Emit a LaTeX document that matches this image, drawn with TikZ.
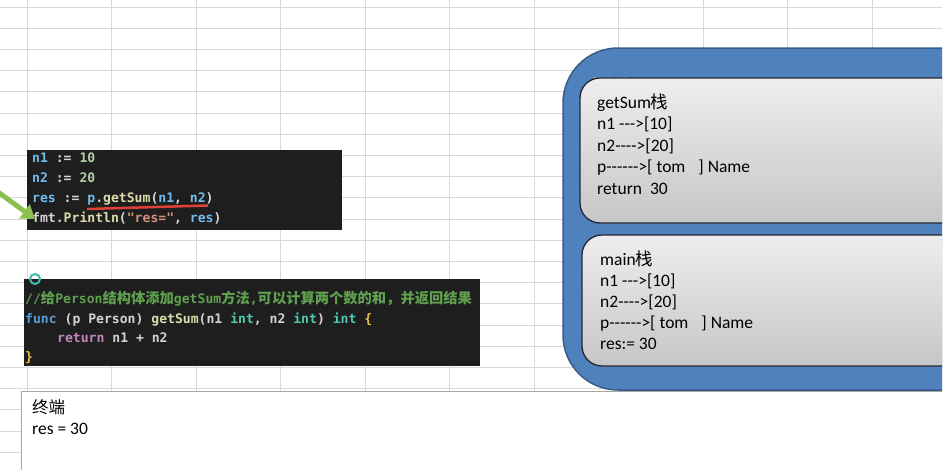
\documentclass[tikz,border=0pt]{standalone}
\usepackage{fontspec}
\usepackage{xcolor}
\usetikzlibrary{arrows.meta}
\newfontfamily\boxfont{Carlito}
\newfontfamily\codefont{DejaVu Sans Mono}
\newfontfamily\cjk{Noto Sans CJK SC}
\newfontfamily\cjkcode{Noto Sans CJK SC}[Scale=1.09]

\definecolor{gridgray}{HTML}{D9D9D9}
\definecolor{codebg}{HTML}{1E1E1E}
\definecolor{govar}{HTML}{72BCEF}
\definecolor{gonum}{HTML}{B5CEA8}
\definecolor{gofunc}{HTML}{DCDCAA}
\definecolor{gostr}{HTML}{CE9178}
\definecolor{gocmt}{HTML}{5FA04E}
\definecolor{gokw}{HTML}{569CD6}
\definecolor{gotype}{HTML}{4EC9B0}
\definecolor{gopurple}{HTML}{C586C0}
\definecolor{goplain}{HTML}{D4D4D4}
\definecolor{gobrace}{HTML}{E8C547}
\definecolor{underred}{HTML}{E0403A}
\definecolor{arrowgreen}{HTML}{8CBF4F}
\definecolor{areablue}{HTML}{4F81BD}
\definecolor{areadark}{HTML}{385D8A}
\definecolor{framedark}{HTML}{262630}
\definecolor{boxtop}{HTML}{EEEEEE}
\definecolor{boxbottom}{HTML}{C6C6C6}
\definecolor{termline}{HTML}{A6A6A6}
\definecolor{ringteal}{HTML}{3DBDB0}

\tikzset{
  gridline/.style={draw=gridgray, line width=0.8},
  codebox/.style={fill=codebg},
  codeline/.style={anchor=base west, inner sep=0, text=goplain, font=\codefont\bfseries\fontsize{13.1}{19}\selectfont},
  stackline/.style={anchor=base west, inner sep=0, font=\boxfont\fontsize{17.5}{21}\selectfont},
  stackarea/.style={fill=areablue, draw=areadark, line width=1.5, rounded corners=55},
  framebox/.style={draw=framedark, line width=1.3, rounded corners=20, top color=boxtop, bottom color=boxbottom},
  pointer/.style={draw=arrowgreen, line width=5, -{Triangle[length=13pt,width=17pt]}},
}

\begin{document}
\begin{tikzpicture}[x=1pt,y=-1pt]
\useasboundingbox (0,0) rectangle (951,469);
\begin{scope}
\clip (0,0) rectangle (942,469);

% sheet grid
\foreach \x in {27,111.5,...,942}
{
	\draw[gridline] (\x,0) -- (\x,469);
}
\foreach \y in {7,28.2,...,469}
{
	\draw[gridline] (0,\y) -- (942,\y);
}

% call site
\fill[codebox] (27,150) rectangle (342,230);
\node[codeline] (c1) at (32,162) {\textcolor{govar}{n1} := \textcolor{gonum}{10}};
\node[codeline] (c2) at (32,182) {\textcolor{govar}{n2} := \textcolor{gonum}{20}};
\node[codeline] (c3) at (32,202) {\textcolor{govar}{res} := \textcolor{govar}{p}.\textcolor{gofunc}{getSum}(\textcolor{govar}{n1}, \textcolor{govar}{n2})};
\node[codeline] (c4) at (32,222) {fmt.\textcolor{gofunc}{Println}(\textcolor{gostr}{"res="}, \textcolor{govar}{res})};
\coordinate (ulstart) at (87,209);
\coordinate (ulend) at (208,205.5);
\draw[underred, line width=2.5] (ulstart) -- (ulend);
\coordinate (arrowtail) at (-2,192);
\coordinate (arrowhead) at (35,219);
\draw[pointer] (arrowtail) -- (arrowhead);

% method
\fill[codebox] (24,279) rectangle (480,366);
\draw[ringteal, line width=2] (35,279) circle (5);
\node[codeline, text=gocmt] (m1) at (25,303) {//{\cjkcode 给}Person{\cjkcode 结构体添加}getSum{\cjkcode 方法},{\cjkcode 可以计算两个数的和，并返回结果}};
\node[codeline] (m2) at (25,323) {\textcolor{gokw}{func} (p Person) \textcolor{gofunc}{getSum}(n1 \textcolor{gotype}{int}, n2 \textcolor{gotype}{int}) \textcolor{gotype}{int} \textcolor{gobrace}{\{}};
\node[codeline] (m3) at (57,342) {\textcolor{gopurple}{return} n1 + n2};
\node[codeline, text=gobrace] (m4) at (25,361) {\}};

% stack area
\draw[stackarea] (563,48) rectangle (1010,390);
\node[anchor=base west, inner sep=0, text=white, font=\cjk\fontsize{12}{12}\selectfont] (arealabel) at (592,87.5) {栈空间};
\draw[framebox] (580,78) rectangle (990,223);
\draw[framebox] (582,235) rectangle (990,366);
\foreach \i/\t in {0/{getSum{\cjk 栈}}, 1/{n1 --->[10]}, 2/{n2---->[20]}, 3/{p------>[ tom\hspace{13pt}] Name}, 4/{return\hspace{8pt}30}}
{
	\node[stackline] (sum\i) at (597,108+21.5*\i) {\t};
}
\foreach \i/\t in {0/{main{\cjk 栈}}, 1/{n1 --->[10]}, 2/{n2---->[20]}, 3/{p------>[ tom\hspace{13pt}] Name}, 4/{res:= 30}}
{
	\node[stackline] (main\i) at (600,265+21*\i) {\t};
}

% terminal
\draw[fill=white, draw=termline, line width=1] (21,391) rectangle (1010,500);
\node[stackline, font=\cjk\fontsize{16.5}{21}\selectfont] (term0) at (32,413) {终端};
\node[stackline] (term1) at (32,434) {res = 30};
\end{scope}
\end{tikzpicture}
\end{document}
